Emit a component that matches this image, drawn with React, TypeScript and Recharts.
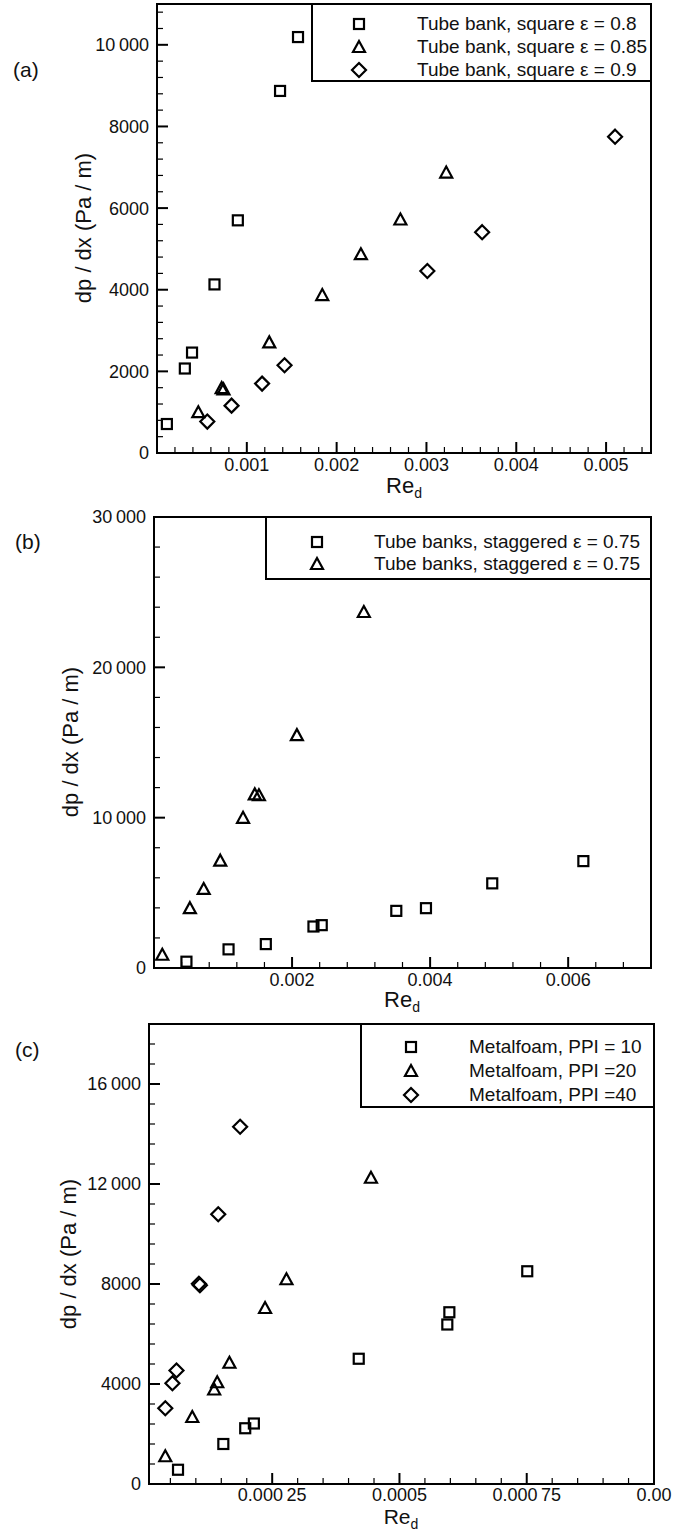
import { ReferenceArea, Scatter, ScatterChart, XAxis, YAxis } from "recharts";

// ---- (a) square tube banks ----
const reSquare08 = [0.00011, 0.00031, 0.00039, 0.00064, 0.0009, 0.00137, 0.00157];
const dpSquare08 = [710, 2070, 2460, 4130, 5700, 8870, 10190];
const reSquare085 = [0.00046, 0.00072, 0.00074, 0.00125, 0.00184, 0.00227, 0.00271, 0.00322];
const dpSquare085 = [1000, 1590, 1560, 2710, 3870, 4870, 5720, 6870];
const reSquare09 = [0.00056, 0.00083, 0.00117, 0.00142, 0.00301, 0.00362, 0.0051];
const dpSquare09 = [770, 1160, 1700, 2150, 4460, 5410, 7750];

// ---- (b) staggered tube banks ----
const reStaggeredSq = [0.00047, 0.00108, 0.00162, 0.00231, 0.00243, 0.00351, 0.00394, 0.0049, 0.00622];
const dpStaggeredSq = [420, 1240, 1590, 2760, 2850, 3800, 3980, 5630, 7110];
const reStaggeredTri = [0.00012, 0.00052, 0.00072, 0.00096, 0.00129, 0.00146, 0.00152, 0.00207, 0.00304];
const dpStaggeredTri = [880, 3980, 5260, 7140, 9990, 11550, 11490, 15490, 23680];

// ---- (c) metal foams ----
const rePpi10 = [0.000065, 0.000154, 0.000197, 0.000214, 0.00042, 0.000594, 0.000598, 0.000751];
const dpPpi10 = [570, 1600, 2230, 2420, 5010, 6380, 6870, 8510];
const rePpi20 = [0.00004, 0.000093, 0.000136, 0.000142, 0.000166, 0.000236, 0.000278, 0.000444];
const dpPpi20 = [1110, 2680, 3780, 4070, 4850, 7040, 8190, 12250];
const rePpi40 = [0.00004, 0.000054, 0.000062, 0.000106, 0.000108, 0.000144, 0.000187];
const dpPpi40 = [3030, 4030, 4540, 8010, 7950, 10790, 14290];

// axis ticks / labels
const xMajorsA = [0.001, 0.002, 0.003, 0.004, 0.005];
const xLabelsA = ["0.001", "0.002", "0.003", "0.004", "0.005"];
const yMajorsA = [0, 2000, 4000, 6000, 8000, 10000];
const yLabelsA = ["0", "2000", "4000", "6000", "8000", "10\u2009000"];

const xMajorsB = [0.002, 0.004, 0.006];
const xLabelsB = ["0.002", "0.004", "0.006"];
const yMajorsB = [0, 10000, 20000, 30000];
const yLabelsB = ["0", "10\u2009000", "20\u2009000", "30\u2009000"];

const xMajorsC = [0.00025, 0.0005, 0.00075, 0.001];
const xLabelsC = ["0.000\u200925", "0.0005", "0.000\u200975", "0.00"];
const yMajorsC = [0, 4000, 8000, 12000, 16000];
const yLabelsC = ["0", "4000", "8000", "12\u2009000", "16\u2009000"];

const FONT = '"Liberation Sans", Arial, Helvetica, sans-serif';

type Pt = { re: number; dp: number };
type Kind = "square" | "triangle" | "diamond";

const zip = (re: number[], dp: number[]): Pt[] => re.map((r, i) => ({ re: r, dp: dp[i] }));

function steps(from: number, to: number, step: number) {
  const out: number[] = [];
  const n = Math.round((to - from) / step);
  for (let i = 0; i <= n; i++) out.push(+(from + i * step).toPrecision(10));
  return out;
}

function Marker({ kind, cx, cy }: { kind: Kind; cx: number; cy: number }) {
  const s = { fill: "none", stroke: "#000", strokeWidth: 2.2 };
  if (kind === "square") return <rect x={cx - 5} y={cy - 5} width={10} height={10} {...s} />;
  if (kind === "triangle")
    return <polygon points={`${cx},${cy - 6} ${cx + 6},${cy + 5} ${cx - 6},${cy + 5}`} {...s} />;
  return <polygon points={`${cx},${cy - 7} ${cx + 7},${cy} ${cx},${cy + 7} ${cx - 7},${cy}`} {...s} />;
}

function findMajor(majors: number[], v: number) {
  return majors.findIndex((m) => Math.abs(m - v) <= Math.abs(m) * 1e-6 + 1e-12);
}

// ticks point inward (Tecplot style), labels only on majors
function tickRenderer(side: "left" | "bottom", majors: number[], labels: string[], labelDy = 18) {
  return (props: any) => {
    const { x, y, payload } = props;
    const i = findMajor(majors, payload.value);
    const major = i >= 0;
    const len = major ? 11 : 6;
    const line =
      side === "left" ? (
        <line x1={x} y1={y} x2={x + len} y2={y} stroke="#000" strokeWidth={major ? 2 : 1.2} />
      ) : (
        <line x1={x} y1={y} x2={x} y2={y - len} stroke="#000" strokeWidth={major ? 2 : 1.2} />
      );
    return (
      <g>
        {line}
        {major &&
          (side === "left" ? (
            <text x={x - 8} y={y} dy="0.36em" textAnchor="end" fontSize={18} fontFamily={FONT} fill="#111">
              {labels[i]}
            </text>
          ) : (
            <text x={x} y={y + labelDy} textAnchor="middle" fontSize={18} fontFamily={FONT} fill="#111">
              {labels[i]}
            </text>
          ))}
      </g>
    );
  };
}

interface Series {
  name: string;
  kind: Kind;
  data: Pt[];
}

interface PanelProps {
  top: number;
  width: number;
  height: number;
  margin: { top: number; right: number; bottom: number; left: number };
  xDomain: [number, number];
  yDomain: [number, number];
  xTicks: number[];
  yTicks: number[];
  xMajors: number[];
  xLabels: string[];
  yMajors: number[];
  yLabels: string[];
  labelDy?: number;
  series: Series[];
}

function Panel(p: PanelProps) {
  // axes get 1px of room so they still render; margins are reduced by the same amount
  const margin = { ...p.margin, left: p.margin.left - 1, bottom: p.margin.bottom - 1 };
  return (
    <div style={{ position: "absolute", left: 0, top: p.top }}>
      <ScatterChart width={p.width} height={p.height} margin={margin}>
        <XAxis
          type="number"
          dataKey="re"
          domain={p.xDomain}
          allowDataOverflow
          ticks={p.xTicks}
          interval={0}
          height={1}
          tickSize={0}
          tickMargin={0}
          axisLine={false}
          tickLine={false}
          tick={tickRenderer("bottom", p.xMajors, p.xLabels, p.labelDy)}
        />
        <YAxis
          type="number"
          dataKey="dp"
          domain={p.yDomain}
          allowDataOverflow
          ticks={p.yTicks}
          interval={0}
          width={1}
          tickSize={0}
          tickMargin={0}
          axisLine={false}
          tickLine={false}
          tick={tickRenderer("left", p.yMajors, p.yLabels)}
        />
        <ReferenceArea
          x1={p.xDomain[0]}
          x2={p.xDomain[1]}
          y1={p.yDomain[0]}
          y2={p.yDomain[1]}
          fill="none"
          fillOpacity={0}
          stroke="#000"
          strokeWidth={2}
        />
        {p.series.map((s) => (
          <Scatter
            key={s.name}
            name={s.name}
            data={s.data}
            isAnimationActive={false}
            shape={(sp: any) => <Marker kind={s.kind} cx={sp.cx} cy={sp.cy} />}
          />
        ))}
      </ScatterChart>
    </div>
  );
}

function LegendBox({
  left,
  top,
  right,
  bottom,
  rows,
  symbolX,
  textX,
  series,
}: {
  left: number;
  top: number;
  right: number;
  bottom: number;
  rows: number[];
  symbolX: number;
  textX: number;
  series: Series[];
}) {
  return (
    <div
      style={{
        position: "absolute",
        left,
        top,
        width: right - left,
        height: bottom - top,
        border: "2px solid #000",
        boxSizing: "border-box",
        background: "#fff",
      }}
    >
      {series.map((s, i) => (
        <div key={s.name}>
          <svg
            width={20}
            height={20}
            style={{ position: "absolute", left: symbolX - left - 2 - 10, top: rows[i] - top - 2 - 10 }}
          >
            <Marker kind={s.kind} cx={10} cy={10} />
          </svg>
          <div
            style={{
              position: "absolute",
              left: textX - left - 2,
              top: rows[i] - top - 2 - 11,
              fontSize: 19,
              lineHeight: "22px",
              fontFamily: FONT,
              color: "#111",
              whiteSpace: "nowrap",
            }}
          >
            {s.name}
          </div>
        </div>
      ))}
    </div>
  );
}

function YTitle({ cx, cy }: { cx: number; cy: number }) {
  return (
    <div
      style={{
        position: "absolute",
        left: cx,
        top: cy,
        transform: "translate(-50%, -50%) rotate(-90deg)",
        fontSize: 22,
        lineHeight: "24px",
        fontFamily: FONT,
        whiteSpace: "nowrap",
        color: "#111",
      }}
    >
      dp / dx (Pa / m)
    </div>
  );
}

function XTitle({ cx, baseline, size = 22 }: { cx: number; baseline: number; size?: number }) {
  return (
    <div
      style={{
        position: "absolute",
        left: cx,
        top: baseline - 15.6,
        transform: "translateX(-50%)",
        fontSize: size,
        lineHeight: "16px",
        fontFamily: FONT,
        whiteSpace: "nowrap",
        color: "#111",
      }}
    >
      Re<span style={{ fontSize: 14, position: "relative", top: 5 }}>d</span>
    </div>
  );
}

function Tag({ left, cy, text }: { left: number; cy: number; text: string }) {
  return (
    <div
      style={{
        position: "absolute",
        left,
        top: cy - 12,
        fontSize: 21,
        lineHeight: "24px",
        fontFamily: FONT,
        color: "#111",
      }}
    >
      {text}
    </div>
  );
}

export default function App() {
  const seriesA: Series[] = [
    { name: "Tube bank, square \u03b5 = 0.8", kind: "square", data: zip(reSquare08, dpSquare08) },
    { name: "Tube bank, square \u03b5 = 0.85", kind: "triangle", data: zip(reSquare085, dpSquare085) },
    { name: "Tube bank, square \u03b5 = 0.9", kind: "diamond", data: zip(reSquare09, dpSquare09) },
  ];
  const seriesB: Series[] = [
    { name: "Tube banks, staggered \u03b5 = 0.75", kind: "square", data: zip(reStaggeredSq, dpStaggeredSq) },
    { name: "Tube banks, staggered \u03b5 = 0.75 ", kind: "triangle", data: zip(reStaggeredTri, dpStaggeredTri) },
  ];
  const seriesC: Series[] = [
    { name: "Metalfoam, PPI = 10", kind: "square", data: zip(rePpi10, dpPpi10) },
    { name: "Metalfoam, PPI =20", kind: "triangle", data: zip(rePpi20, dpPpi20) },
    { name: "Metalfoam, PPI =40", kind: "diamond", data: zip(rePpi40, dpPpi40) },
  ];

  return (
    <div
      style={{
        position: "absolute",
        left: 0,
        top: 0,
        width: 688,
        height: 1533,
        background: "#fff",
        overflow: "hidden",
      }}
    >
      <Panel
        top={0}
        width={688}
        height={500}
        margin={{ top: 4, right: 37, bottom: 47, left: 157 }}
        xDomain={[0, 0.0055]}
        yDomain={[0, 11000]}
        xTicks={steps(0.0002, 0.0054, 0.0002)}
        yTicks={steps(0, 10800, 400)}
        xMajors={xMajorsA}
        xLabels={xLabelsA}
        yMajors={yMajorsA}
        yLabels={yLabelsA}
        series={seriesA}
      />
      <Panel
        top={500}
        width={688}
        height={520}
        margin={{ top: 17, right: 37, bottom: 52, left: 154 }}
        xDomain={[0, 0.0072]}
        yDomain={[0, 30000]}
        xTicks={steps(0.0004, 0.0068, 0.0004)}
        yTicks={steps(0, 30000, 2000)}
        xMajors={xMajorsB}
        xLabels={xLabelsB}
        yMajors={yMajorsB}
        yLabels={yLabelsB}
        series={seriesB}
      />
      <Panel
        top={1020}
        width={688}
        height={513}
        margin={{ top: 4, right: 34, bottom: 49, left: 149 }}
        xDomain={[0.000008, 0.001]}
        yDomain={[0, 18400]}
        xTicks={steps(0.00005, 0.001, 0.00005)}
        yTicks={steps(0, 17600, 800)}
        xMajors={xMajorsC}
        xLabels={xLabelsC}
        yMajors={yMajorsC}
        yLabels={yLabelsC}
        labelDy={17}
        series={seriesC}
      />

      <LegendBox left={311} top={3} right={652} bottom={82} rows={[24, 47, 70]} symbolX={359} textX={417} series={seriesA} />
      <LegendBox left={265} top={516} right={652} bottom={580} rows={[542, 564]} symbolX={317} textX={374} series={seriesB} />
      <LegendBox left={360} top={1023} right={655} bottom={1108} rows={[1047, 1071, 1095]} symbolX={411} textX={469} series={seriesC} />

      <YTitle cx={84} cy={228} />
      <YTitle cx={71} cy={742} />
      <YTitle cx={69} cy={1254} />
      <XTitle cx={404} baseline={494} />
      <XTitle cx={402} baseline={1008} />
      <XTitle cx={401} baseline={1525} size={21} />
      <Tag left={13} cy={70} text="(a)" />
      <Tag left={15} cy={542} text="(b)" />
      <Tag left={15} cy={1050} text="(c)" />
    </div>
  );
}
